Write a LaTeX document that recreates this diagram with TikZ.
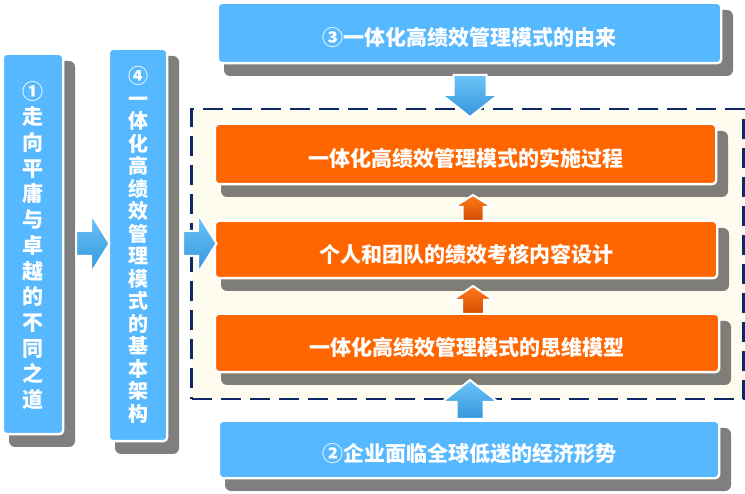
\documentclass[tikz,border=0pt]{standalone}
\usepackage{fontspec}
\newfontfamily\cjk{Noto Sans CJK SC Black}
\definecolor{boxblue}{HTML}{56B8FF}
\definecolor{boxorange}{HTML}{FF6600}
\definecolor{cream}{HTML}{FEFBEF}
\definecolor{navy}{HTML}{0F2966}
\definecolor{arrblueA}{HTML}{6CC4F8}
\definecolor{arrblueB}{HTML}{3596DC}
\definecolor{arrorA}{HTML}{FF7A1A}
\definecolor{arrorB}{HTML}{D04C00}
\pgfdeclarelayer{back}
\pgfdeclarelayer{bg}
\pgfsetlayers{back,bg,main}
\tikzset{
  card/.style={draw=white, line width=2.4pt, rounded corners=4pt, inner sep=0pt, outer sep=0pt},
  bluecard/.style={card, fill=boxblue},
  orangecard/.style={card, fill=boxorange},
  cardshadow/.style={fill=black, fill opacity=0.5, rounded corners=6pt},
  htext/.style={text=white, font=\cjk\fontsize{21}{25}\selectfont, inner sep=0pt},
  vtextA/.style={text=white, align=center, font=\cjk\fontsize{21}{25.7}\selectfont, inner sep=0pt},
  vtextB/.style={text=white, align=center, font=\cjk\fontsize{20}{22.5}\selectfont, inner sep=0pt},
  blockarrow/.style={draw=white, line width=2pt, line join=miter},
  bluearrow/.style={blockarrow, top color=arrblueA, bottom color=arrblueB},
  orangearrow/.style={blockarrow, top color=arrorA, bottom color=arrorB},
  dashframe/.style={draw=navy, line width=2.5pt, dash pattern=on 20pt off 9pt, fill=cream, inner sep=0pt},
}
\begin{document}
\begin{tikzpicture}[x=1pt,y=-1pt]
\useasboundingbox (0,0) rectangle (745,494);
\begin{pgfonlayer}{back}
\fill[white] (0,0) rectangle (745,494);
\node[dashframe, minimum width=552pt, minimum height=290pt] (fr) at (467.5,254.2) {};
\end{pgfonlayer}

% cards
\node[bluecard, minimum width=60.4pt, minimum height=380.4pt] (b1) at (33,244) {};
\node[bluecard, minimum width=58.4pt, minimum height=392.4pt] (b4) at (138,245) {};
\node[bluecard, minimum width=503.4pt, minimum height=60.4pt] (b3) at (469.5,33) {};
\node[orangecard, minimum width=501.4pt, minimum height=60.4pt] (o1) at (465.5,154) {};
\node[orangecard, minimum width=502.4pt, minimum height=57.4pt] (o2) at (466,249.5) {};
\node[orangecard, minimum width=504.4pt, minimum height=58.4pt] (o3) at (467,343) {};
\node[bluecard, minimum width=500.4pt, minimum height=57.4pt] (b2) at (469,449.5) {};

% shadows
\begin{pgfonlayer}{bg}
\foreach \n in {b1,b4,b3,o1,o2,o3,b2}
  \fill[cardshadow] ([shift={(6.2,7.2)}]\n.north west) rectangle ([shift={(11.8,12.8)}]\n.south east);
\end{pgfonlayer}

% texts
\node[vtextA] (t1) at ([yshift=-1.5pt]b1.center) {①\\走\\向\\平\\庸\\与\\卓\\越\\的\\不\\同\\之\\道};
\node[vtextB] (t4) at (b4.center) {④\\一\\体\\化\\高\\绩\\效\\管\\理\\模\\式\\的\\基\\本\\架\\构};
\node[htext] (t3) at ([yshift=-4.5pt]b3.center) {③一体化高绩效管理模式的由来};
\node[htext] (to1) at ([yshift=-4.5pt]o1.center) {一体化高绩效管理模式的实施过程};
\node[htext] (to2) at ([yshift=-4.5pt]o2.center) {个人和团队的绩效考核内容设计};
\node[htext] (to3) at ([yshift=-4.5pt]o3.center) {一体化高绩效管理模式的思维模型};
\node[htext] (t2) at ([yshift=-4.5pt]b2.center) {②企业面临全球低迷的经济形势};

% block arrows
\draw[bluearrow] (76,231) -- (91,231) -- (91,214) -- (109.5,243.5) -- (91,273) -- (91,256) -- (76,256) -- cycle;
\draw[bluearrow] (183,231) -- (198,231) -- (198,214) -- (216.5,243.5) -- (198,273) -- (198,256) -- (183,256) -- cycle;
\draw[bluearrow] (453.5,75) -- (486.5,75) -- (486.5,95) -- (498,95) -- (470,117) -- (442,95) -- (453.5,95) -- cycle;
\draw[orangearrow] (462.5,221) -- (462.5,207) -- (454,207) -- (473,195) -- (492,207) -- (483.5,207) -- (483.5,221) -- cycle;
\draw[orangearrow] (462,314) -- (462,300) -- (452.5,300) -- (473,286) -- (493.5,300) -- (484,300) -- (484,314) -- cycle;
\draw[bluearrow] (456.5,419) -- (456.5,402) -- (442,402) -- (470,380) -- (498,402) -- (483.5,402) -- (483.5,419) -- cycle;
\end{tikzpicture}
\end{document}
